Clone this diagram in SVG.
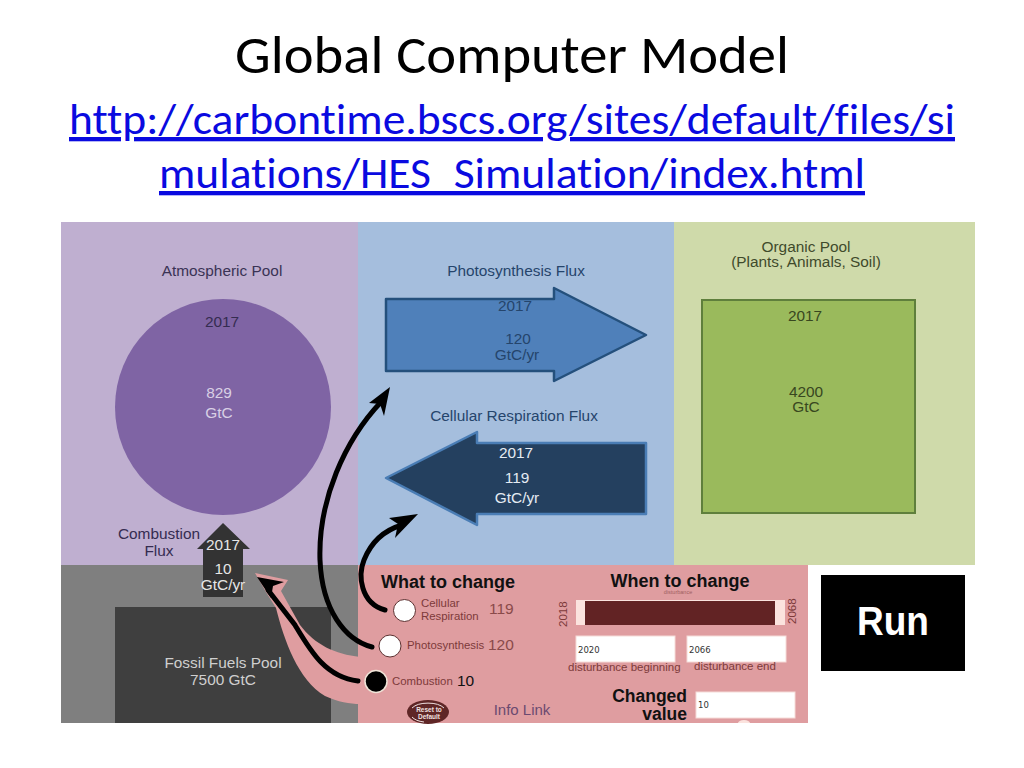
<svg xmlns="http://www.w3.org/2000/svg" width="1024" height="768" viewBox="0 0 1024 768">
<style>
text{font-family:"Liberation Sans",Arial,sans-serif}
.t{font-family:Carlito,Lato,"Liberation Sans",sans-serif;text-anchor:middle}
.l{fill:#0a0ae0;text-decoration:underline;font-size:43px;font-family:Carlito,Lato,"Liberation Sans",sans-serif;text-anchor:middle;font-variant-ligatures:none}
.m{text-anchor:middle}
.big{font-size:15.4px}
.con{fill:none;stroke:#000;stroke-width:5;stroke-linecap:round}
.head{fill:#000}
.inp{fill:#fff;stroke:#f6dcd8;stroke-width:1}
.sm{font-size:8.5px;font-family:"DejaVu Sans",sans-serif;fill:#333}
.dl{font-size:11.500px;fill:#7d3a3a}
.s{font-size:11.400px;fill:#7d3a3a}
.b{font-size:18px;font-weight:bold;fill:#111}
.c{font-size:17.500px;font-weight:bold;fill:#111;text-anchor:end}
</style>
<rect width="1024" height="768" fill="#fff"/>
<g id="title">
<text class="t" x="512" y="73" style="font-size:54px" textLength="554" lengthAdjust="spacingAndGlyphs">Global Computer Model</text>
<text class="l" x="512" y="134" textLength="886" lengthAdjust="spacingAndGlyphs">http://carbontime.bscs.org/sites/default/files/si</text>
<text class="l" x="512" y="188" textLength="706" lengthAdjust="spacingAndGlyphs">mulations/HES_Simulation/index.html</text>
</g>
<g id="panels">
<rect x="61" y="222" width="297" height="343" fill="#bfafd0"/>
<rect x="358" y="222" width="316" height="343" fill="#a5bedd"/>
<rect x="674" y="222" width="301" height="343" fill="#cfdaaa"/>
<rect x="61" y="565" width="297" height="158" fill="#7f7f7f"/>
<rect x="358" y="565" width="450" height="158" fill="#df9da0"/>
</g>
<g id="atmospheric-pool">
<text class="m big" x="222" y="276" fill="#3a3355">Atmospheric Pool</text>
<circle cx="223" cy="407" r="108" fill="#7f64a4"/>
<text class="m big" x="222" y="327" fill="#352c50">2017</text>
<text class="m big" x="219" y="398" fill="#d9d0e4">829</text>
<text class="m big" x="219" y="418" fill="#d9d0e4">GtC</text>
</g>
<g id="photosynthesis-flux">
<text class="m big" x="516" y="276" fill="#25456c">Photosynthesis Flux</text>
<path d="M386 299H554V288L646 335 554 381V371H386Z" fill="#4f80ba" stroke="#24507c" stroke-width="2.500" stroke-linejoin="round"/>
<text class="m big" x="515" y="311" fill="#25456c">2017</text>
<text class="m big" x="518" y="344" fill="#25456c">120</text>
<text class="m big" x="517" y="360" fill="#25456c">GtC/yr</text>
</g>
<g id="respiration-flux">
<text class="m big" x="514" y="421" fill="#25456c">Cellular Respiration Flux</text>
<path d="M646 443H477V432L386 478 477 525V514H646Z" fill="#24405f" stroke="#4a7db5" stroke-width="2.500" stroke-linejoin="round"/>
<text class="m big" x="516" y="458" fill="#e4ebf3">2017</text>
<text class="m big" x="517" y="483" fill="#e4ebf3">119</text>
<text class="m big" x="517" y="503" fill="#e4ebf3">GtC/yr</text>
</g>
<g id="organic-pool">
<text class="m big" x="806" y="252" fill="#3f4a2c">Organic Pool</text>
<text class="m big" x="806" y="267" fill="#3f4a2c">(Plants, Animals, Soil)</text>
<rect x="702" y="300" width="213" height="213" fill="#9aba5c" stroke="#5f7f3c" stroke-width="2"/>
<text class="m big" x="805" y="321" fill="#38471f">2017</text>
<text class="m big" x="806" y="397" fill="#38471f">4200</text>
<text class="m big" x="806" y="412" fill="#38471f">GtC</text>
</g>
<g id="combustion-flux">
<text class="m big" x="159" y="539" fill="#352c50">Combustion</text>
<text class="m big" x="159" y="556" fill="#352c50">Flux</text>
<path d="M197 549 223 523 250 549H243V597H203V549Z" fill="#333"/>
<text class="m big" x="223" y="550" fill="#e6e6e6">2017</text>
<text class="m big" x="223" y="574" fill="#e6e6e6">10</text>
<text class="m big" x="223" y="590" fill="#e6e6e6">GtC/yr</text>
</g>
<g id="fossil-fuels-pool">
<rect x="115" y="607" width="216" height="116" fill="#3f3f3f"/>
<text class="m big" x="223" y="668" fill="#cfcfcf">Fossil Fuels Pool</text>
<text class="m big" x="223" y="685" fill="#cfcfcf">7500 GtC</text>
</g>
<g id="controls">
<path d="M360 657C335 654 315 645 300 625L281 591 288 580 255 573 266 592 276 608C284 640 298 680 325 696 338 702 350 704 360 704Z" fill="#df9da0"/>
<text x="381" y="588" class="b">What to change</text>
<text x="680" y="587" class="m b">When to change</text>
<text x="678" y="594" class="m" style="font-size:5.500px" fill="#a06060">disturbance</text>
<circle cx="404.500" cy="610.500" r="11" fill="#fff" stroke="#5c3030" stroke-width="1"/>
<circle cx="390" cy="646" r="11" fill="#fff" stroke="#5c3030" stroke-width="1"/>
<circle cx="376" cy="681.500" r="11" fill="#000" stroke="#f0e4d8" stroke-width="1.500"/>
<text x="421" y="607" class="s">Cellular</text>
<text x="421" y="620" class="s">Respiration</text>
<text x="489" y="614" style="font-size:15.500px" fill="#8a4a4a">119</text>
<text x="407" y="649" class="s">Photosynthesis</text>
<text x="488" y="650" style="font-size:15.500px" fill="#8a4a4a">120</text>
<text x="392" y="685" class="s">Combustion</text>
<text x="457" y="686" style="font-size:15.500px" fill="#111">10</text>
<ellipse cx="428" cy="712" rx="21" ry="12" fill="#5f2626"/>
<path d="M412 708a18 9 0 0 1 32 0M412 717a18 9 0 0 0 12 5" fill="none" stroke="#efe0e0" stroke-width="1"/>
<text x="429" y="712" class="m" style="font-size:6.500px;font-weight:bold" fill="#f0e0e0">Reset to</text>
<text x="429" y="719" class="m" style="font-size:6.500px;font-weight:bold" fill="#f0e0e0">Default</text>
<text x="522" y="715" class="m" style="font-size:15px" fill="#6b4a70">Info Link</text>
<rect x="576" y="600" width="209" height="25" fill="#fbe3de"/>
<rect x="585" y="601" width="190" height="24" fill="#622324"/>
<text transform="translate(567 627) rotate(-90)" style="font-size:11.500px" fill="#7d3a3a">2018</text>
<text transform="translate(796 624) rotate(-90)" style="font-size:11.500px" fill="#7d3a3a">2068</text>
<rect class="inp" x="576" y="636" width="99" height="26"/>
<rect class="inp" x="687" y="636" width="99" height="26"/>
<text class="sm" x="578" y="653">2020</text>
<text class="sm" x="689" y="653">2066</text>
<text class="dl" x="568" y="671">disturbance beginning</text>
<text class="dl" x="694" y="670">disturbance end</text>
<text x="687" y="702" class="c">Changed</text>
<text x="687" y="720" class="c">value</text>
<rect class="inp" x="696" y="692" width="99" height="26"/>
<text class="sm" x="698" y="708">10</text>
<path d="M738 723a6 3 0 0 1 12 0Z" fill="#fbe3de"/>
</g>
<g id="run-button">
<rect x="821" y="575" width="144" height="96" fill="#000"/>
<text x="893" y="635" class="m" style="font-size:40px;font-weight:bold" fill="#fff" textLength="72" lengthAdjust="spacingAndGlyphs">Run</text>
</g>
<g id="connectors">
<path class="con" d="M385 610C360 603 358 575 364 560 372 540 385 530 402 525"/>
<path class="head" d="M418 514 389 518 398 524 395 538Z"/>
<path class="con" d="M372 647C345 640 322 610 320 560 318 500 345 440 381 402"/>
<path class="head" d="M390 387 369 403 380 404 384 416Z"/>
<path class="con" d="M358 681C325 677 310 650 295 625L268 590"/>
<path class="head" d="M257 577 284 582 273 586 271 598Z"/>
</g>
</svg>
